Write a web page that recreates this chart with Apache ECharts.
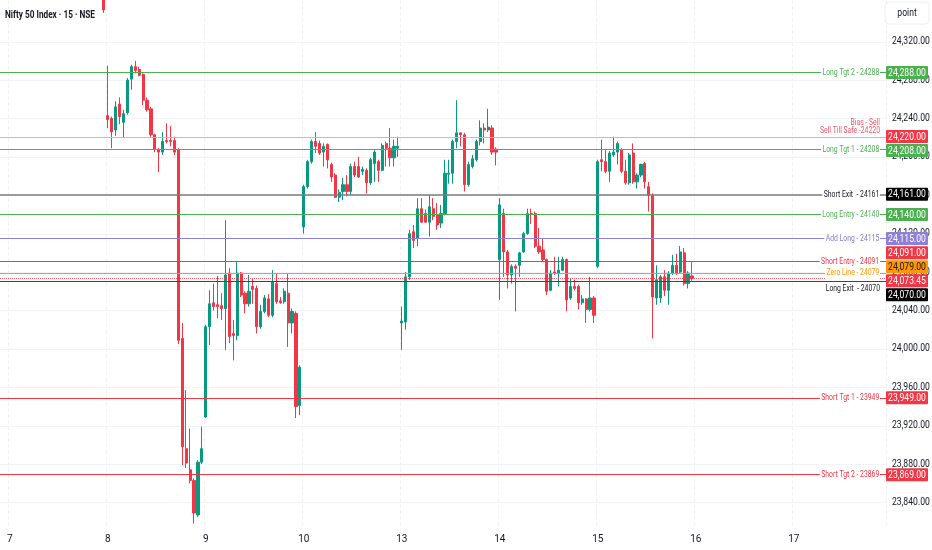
<!DOCTYPE html>
<html>
<head>
<meta charset="utf-8">
<script src="https://cdn.jsdelivr.net/npm/echarts@6/dist/echarts.min.js"></script>
<style>
html,body{margin:0;padding:0;background:#fff;}
#c{width:932px;height:550px;}
</style>
</head>
<body>
<div id="c"></div>
<script>
// ---------------- DATA ----------------
const dayLabels = ['7','8','9','10','13','14','15','16','17'];
const sessionTimes = ['09:15','09:30','09:45','10:00','10:15','10:30','10:45','11:00','11:15','11:30','11:45','12:00','12:15','12:30','12:45','13:00','13:15','13:30','13:45','14:00','14:15','14:30','14:45','15:00','15:15'];
const leadTimes = ['6 15:00','6 15:15'];
const tickValues = [23840,23880,23920,23960,24000,24040,24080,24120,24160,24200,24240,24280,24320];

// candles: [open, close, low, high]
const day7Last = [24380,24353,24350,24390];
const day8 = [
[24243,24239,24230,24295],[24240,24226,24209,24242],[24228,24252,24222,24258],[24255,24242,24234,24262],
[24236,24245,24220,24249],[24246,24280,24244,24282],[24281,24294,24270,24296],[24294,24290,24287,24300],
[24291,24285,24284,24294],[24286,24259,24254,24287],[24259,24249,24247,24262],[24250,24223,24221,24252],
[24223,24208,24205,24224],[24208,24205,24184,24209],[24205,24216,24202,24226],[24217,24216,24214,24235],
[24217,24216,24211,24232],[24217,24205,24202,24221],[24207,24009,24005,24209],[24011,23898,23879,24027],
[23896,23881,23876,23957],[23874,23863,23860,23917],[23863,23829,23818,23865],[23827,23882,23825,23884],
[23882,23896,23880,23919]];
const day9 = [
[23929,24023,23928,24025],[24023,24047,24004,24061],[24048,24044,24040,24068],[24046,24044,24032,24076],
[24045,24042,24030,24058],[24042,24077,23999,24134],[24079,24013,24006,24084],[24016,24014,23988,24030],
[24014,24079,24009,24091],[24079,24056,24054,24080],[24058,24047,24037,24060],[24047,24060,24044,24077],
[24065,24062,24047,24073],[24063,24023,24016,24066],[24023,24039,24021,24046],[24039,24053,24037,24056],
[24052,24035,24033,24057],[24035,24070,24033,24082],[24068,24049,24047,24079],[24050,24048,24047,24054],
[24049,24060,24047,24063],[24058,24027,24002,24079],[24027,24039,24016,24042],[24037,23940,23928,24039],
[23941,23981,23931,23983]];
const day10 = [
[24127,24169,24120,24171],[24169,24195,24167,24197],[24195,24216,24193,24218],[24216,24211,24204,24226],
[24214,24204,24202,24217],[24205,24211,24190,24214],[24213,24197,24188,24214],[24192,24179,24174,24194],
[24181,24158,24157,24183],[24158,24163,24153,24166],[24164,24171,24155,24178],[24171,24164,24159,24181],
[24164,24190,24160,24193],[24190,24181,24179,24195],[24190,24179,24178,24200],[24185,24187,24181,24190],
[24186,24173,24162,24188],[24173,24197,24171,24199],[24193,24205,24174,24207],[24195,24186,24174,24197],
[24186,24212,24185,24214],[24214,24209,24190,24216],[24209,24199,24190,24230],[24199,24211,24190,24218],
[24209,24211,24200,24221]];
const day13 = [
[24027,24029,23999,24044],[24028,24075,24020,24080],[24075,24120,24072,24124],[24122,24113,24105,24129],
[24115,24146,24107,24157],[24146,24132,24131,24157],[24141,24132,24131,24145],[24132,24148,24117,24160],
[24146,24138,24134,24157],[24140,24129,24124,24152],[24131,24141,24126,24150],[24141,24183,24139,24197],
[24182,24183,24172,24197],[24183,24216,24172,24218],[24216,24225,24209,24259],[24225,24223,24211,24225],
[24223,24171,24164,24225],[24171,24192,24169,24195],[24190,24198,24188,24202],[24197,24216,24195,24218],
[24216,24230,24212,24238],[24230,24228,24214,24235],[24228,24231,24226,24250],[24230,24205,24202,24233],
[24208,24205,24191,24210]];
const day14 = [
[24093,24150,24051,24157],[24141,24101,24075,24146],[24101,24077,24063,24103],[24077,24086,24068,24088],
[24086,24084,24039,24088],[24087,24100,24075,24101],[24101,24120,24100,24122],[24120,24141,24119,24146],
[24141,24140,24130,24146],[24141,24107,24105,24143],[24107,24101,24099,24126],[24103,24093,24091,24115],
[24093,24060,24056,24094],[24061,24079,24060,24082],[24080,24079,24077,24096],[24079,24082,24065,24096],
[24082,24093,24081,24096],[24093,24051,24039,24094],[24053,24065,24051,24073],[24065,24063,24061,24072],
[24065,24048,24041,24067],[24048,24052,24046,24056],[24052,24041,24027,24053],[24041,24053,24039,24075],
[24053,24035,24027,24055]];
const day15 = [
[24086,24195,24084,24197],[24197,24195,24185,24218],[24195,24185,24183,24207],[24185,24204,24174,24206],
[24202,24205,24200,24221],[24205,24214,24192,24216],[24207,24185,24183,24209],[24185,24173,24171,24197],
[24173,24202,24171,24204],[24204,24174,24172,24214],[24174,24181,24167,24183],[24181,24192,24179,24193],
[24193,24174,24167,24195],[24169,24160,24143,24174],[24160,24054,24011,24162],[24053,24072,24046,24087],
[24053,24075,24048,24077],[24075,24061,24055,24082],[24061,24079,24046,24081],[24079,24087,24077,24098],
[24087,24079,24077,24099],[24080,24101,24079,24107],[24100,24068,24066,24105],[24068,24079,24063,24081],
[24076,24073.45,24071,24091]];

// horizontal levels
const levelValues = [24288, 24220, 24208, 24161, 24140, 24115, 24091, 24079, 24070, 23949, 23869];
const levelLabels = ['Long Tgt 2 - 24288', 'Bias - Sell\nSell Till Safe -24220', 'Long Tgt 1 - 24208',
  'Short Exit  - 24161', 'Long Entry - 24140', 'Add Long - 24115', 'Short Entry - 24091',
  'Zero Line - 24079', 'Long Exit  - 24070', 'Short Tgt 1 - 23949', 'Short Tgt 2 - 23869'];
const titleText = 'Nifty 50 Index · 15 · NSE';

// ---------------- STYLES ----------------
const GREEN = '#089981', RED = '#f23645';
const FONT = "Roboto, 'DejaVu Sans', sans-serif";
const SX = 0.82;      // horizontal squeeze of the price-scale typography
const SX_LAB = 0.72;  // horizontal squeeze of the level labels
const levelStyle = [
  {line:'#4caf50', text:'#4caf50', badge:'#4caf50', bt:'#fff', pos:'mid'},
  {line:'#f5a5ae', text:'#f0566b', badge:'#f23645', bt:'#fff', pos:'top'},
  {line:'#4caf50', text:'#4caf50', badge:'#4caf50', bt:'#fff', pos:'mid'},
  {line:'#7b7b7b', text:'#131722', badge:'#000000', bt:'#fff', pos:'mid', w:1.5},
  {line:'#4caf50', text:'#4caf50', badge:'#4caf50', bt:'#fff', pos:'mid'},
  {line:'#9080d8', text:'#8a78d0', badge:'#8f7fd6', bt:'#fff', pos:'mid'},
  {line:'#f23645', text:'#f23645', badge:'#f23645', bt:'#fff', pos:'mid'},
  {line:'#ff9800', text:'#ff9800', badge:'#ff9800', bt:'#131722', pos:'mid'},
  {line:'#444444', text:'#131722', badge:'#000000', bt:'#fff', pos:'bottom'},
  {line:'#f23645', text:'#f23645', badge:'#f23645', bt:'#fff', pos:'mid'},
  {line:'#f23645', text:'#f23645', badge:'#f23645', bt:'#fff', pos:'mid'}
];

// ---------------- BUILD ----------------
const categories = leadTimes.slice();
dayLabels.forEach(d => sessionTimes.forEach(t => categories.push(d + ' ' + t)));
categories.length = 226;

const blanks = n => Array(n).fill('-');
const candles = [].concat(blanks(2), blanks(24), [day7Last], day8, day9, day10, day13, day14, day15);
while (candles.length < categories.length) candles.push('-');
const lastClose = day15[day15.length - 1][1];

const fmt = v => v.toLocaleString('en-US', {minimumFractionDigits: 2, maximumFractionDigits: 2});

const markData = levelValues.map((v, i) => {
  const s = levelStyle[i];
  return { yAxis: v, lineStyle: { color: s.line, width: s.w || 1, type: 'solid' }, label: { show: false } };
});
markData.push({ yAxis: lastClose, lineStyle: { color: RED, width: 1, type: 'dotted', opacity: 0.8 }, label: { show: false } });

const GRID = { left: 0, right: 46, top: 0, bottom: 24 };
const chart = echarts.init(document.getElementById('c'), null, { renderer: 'canvas' });
chart.setOption({
  animation: false,
  backgroundColor: '#ffffff',
  grid: GRID,
  xAxis: {
    type: 'category', data: categories, boundaryGap: true,
    axisLine: { show: false }, axisTick: { show: false },
    axisLabel: {
      interval: (i, v) => v.endsWith('09:15'),
      formatter: v => v.split(' ')[0],
      color: '#131722', fontFamily: FONT, fontSize: 10, margin: 8
    },
    splitLine: { show: true, interval: (i, v) => v.endsWith('09:15'), lineStyle: { color: '#f1f2f5', type: 'dashed' } }
  },
  yAxis: {
    type: 'value', position: 'right', min: 23815.5, max: 24363.4, scale: true,
    axisLine: { show: false }, axisTick: { show: false }, splitLine: { show: false },
    axisLabel: { show: false }
  },
  series: [{
    type: 'candlestick', data: candles, barWidth: '68%', clip: true,
    itemStyle: { color: GREEN, color0: RED, borderColor: GREEN, borderColor0: RED, borderWidth: 1 },
    markLine: { symbol: ['none', 'none'], silent: true, animation: false, data: markData }
  }]
});

function sqText(x, y, text, fill, size, align, extra) {
  extra = extra || {};
  const st = Object.assign({ text, fill, font: (extra.weight ? extra.weight + ' ' : '') + size + 'px ' + FONT,
    align, verticalAlign: 'middle' }, extra.style || {});
  return { type: 'text', z: extra.z || 50, x, y, scaleX: extra.sx || SX, scaleY: 1, style: st };
}

// grid lines, text, price scale and badges positioned through the chart's own scale
function drawOverlay() {
  const H = 14;
  const W = chart.getWidth();
  const x0 = W - GRID.right;
  const toY = v => chart.convertToPixel({ yAxisIndex: 0 }, v);
  const els = [];

  // faint horizontal grid at the price-scale ticks
  tickValues.forEach(v => {
    const y = Math.round(toY(v)) + 0.5;
    els.push({ type: 'line', z: 0, silent: true, shape: { x1: 0, y1: y, x2: x0, y2: y }, style: { stroke: '#f2f3f6', lineWidth: 1 } });
  });

  // price scale labels
  tickValues.forEach(v => els.push(sqText(x0 + 6, toY(v), fmt(v), '#131722', 10.5, 'left', { z: 40 })));

  // level labels
  levelValues.forEach((v, i) => {
    const s = levelStyle[i], y = toY(v), ax = x0 - 6;
    if (s.pos === 'mid') {
      els.push(sqText(ax, y, levelLabels[i], s.text, 9.5, 'right',
        { sx: SX_LAB, style: { backgroundColor: '#fff', padding: [1, 1, 1, 2] } }));
    } else if (s.pos === 'top') {
      const parts = levelLabels[i].split('\n');
      els.push(sqText(ax, y - 15.5, parts[0], s.text, 9.5, 'right', { sx: SX_LAB }));
      els.push(sqText(ax, y - 7.5, parts[1], s.text, 9.5, 'right', { sx: SX_LAB }));
    } else {
      els.push(sqText(ax, y + 7, levelLabels[i], s.text, 9.5, 'right', { sx: SX_LAB }));
    }
  });

  // badges, stacked when overlapping
  const badgeList = levelValues.map((v, i) => ({ v, color: levelStyle[i].badge, tc: levelStyle[i].bt }));
  badgeList.push({ v: lastClose, color: RED, tc: '#fff' });
  badgeList.forEach(b => b.y0 = toY(b.v));
  badgeList.sort((a, b) => a.y0 - b.y0);
  const groups = badgeList.map(b => ({ m: [b] }));
  const center = g => g.m.reduce((s, b) => s + b.y0, 0) / g.m.length;
  let merged = true;
  while (merged) {
    merged = false;
    for (let i = 0; i < groups.length - 1; i++) {
      const a = groups[i], b = groups[i + 1];
      const aBot = center(a) + a.m.length * H / 2, bTop = center(b) - b.m.length * H / 2;
      if (bTop < aBot - 0.01) { a.m = a.m.concat(b.m); groups.splice(i + 1, 1); merged = true; break; }
    }
  }
  groups.forEach(g => {
    const top = center(g) - g.m.length * H / 2;
    g.m.forEach((b, j) => {
      const cy = top + H * (j + 0.5);
      els.push({ type: 'rect', z: 100, shape: { x: x0, y: cy - 6.5, width: 42, height: 13, r: 1 }, style: { fill: b.color } });
      els.push(sqText(x0 + 21, cy + 0.5, fmt(b.v), b.tc, 10.5, 'center', { z: 101 }));
    });
  });

  // title and the small scale button
  els.push(sqText(5, 15, titleText, '#131722', 11, 'left', { weight: 'bold', sx: 0.75 }));
  els.push({ type: 'rect', z: 100, shape: { x: x0 - 1, y: 2, width: 44, height: 22, r: 4 }, style: { fill: '#fff', stroke: '#eceef2', lineWidth: 1 } });
  els.push(sqText(x0 + 21, 13, 'point', '#131722', 10.5, 'center', { z: 101 }));
  chart.setOption({ graphic: els });
}
drawOverlay();
</script>
</body>
</html>
